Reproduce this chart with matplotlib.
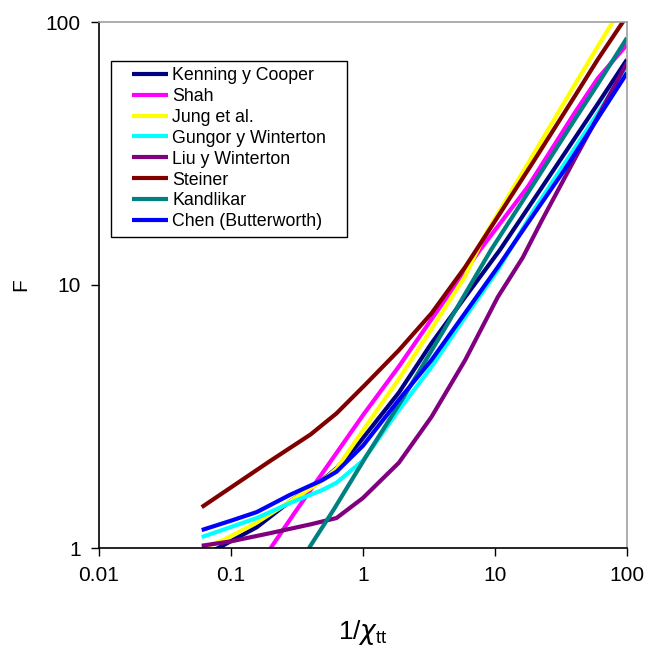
import matplotlib
matplotlib.use("Agg")
import matplotlib.pyplot as plt
from matplotlib.patches import Rectangle

plt.rcParams['font.family'] = ['Liberation Sans', 'DejaVu Sans']

# series (x = 1/Xtt, y = F)
kenning_x = [0.06, 0.08, 0.157, 0.278, 0.49, 0.63, 0.93, 1.87, 3.3, 5.94, 10.9, 20, 40, 60, 100]
kenning_f = [0.93, 1.0, 1.2, 1.5, 1.81, 2.01, 2.5, 3.9, 6.0, 9.0, 13.6, 21.4, 36, 48.8, 72]

shah_x = [0.2, 0.3, 0.49, 0.83, 1.0, 1.87, 3.93, 7.7, 17.7, 40, 60, 100]
shah_f = [1.0, 1.35, 1.92, 2.8, 3.2, 4.9, 8.4, 13.6, 23.6, 45, 61, 82]

jung_x = [0.06, 0.087, 0.157, 0.278, 0.49, 0.63, 1.0, 1.87, 3.3, 5.94, 8.1, 20, 40, 60, 78, 100]
jung_f = [1.0, 1.07, 1.25, 1.5, 1.8, 2.0, 2.8, 4.4, 6.8, 10.8, 15.0, 32, 57.5, 80.7, 100, 122]

gungor_x = [0.06, 0.157, 0.278, 0.49, 0.63, 1.0, 1.87, 3.3, 5.94, 10.5, 20, 40, 60, 100]
gungor_f = [1.10, 1.30, 1.48, 1.66, 1.77, 2.15, 3.35, 4.88, 7.55, 11.4, 19.5, 33, 45, 67]

liu_x = [0.06, 0.1, 0.2, 0.4, 0.63, 1.0, 1.87, 3.3, 5.94, 10.5, 16.2, 22.5, 40, 60, 100]
liu_f = [1.02, 1.06, 1.14, 1.23, 1.30, 1.55, 2.11, 3.15, 5.18, 9.0, 12.7, 17.5, 30, 43.6, 70]

steiner_x = [0.06, 0.1, 0.2, 0.4, 0.63, 1.05, 1.87, 3.3, 5.94, 10, 20, 40, 60, 93, 100]
steiner_f = [1.43, 1.7, 2.15, 2.7, 3.25, 4.2, 5.65, 7.8, 11.7, 17.5, 30, 52, 72, 100, 106]

kandlikar_x = [0.39, 0.6, 1.05, 2, 4, 9.33, 20, 40, 60, 100]
kandlikar_f = [1.0, 1.4, 2.22, 3.7, 6.6, 13.6, 24.6, 42.4, 58, 87]

chen_x = [0.06, 0.1, 0.157, 0.278, 0.49, 0.63, 1.0, 1.87, 3.3, 5.94, 10.5, 20, 33.6, 60, 100]
chen_f = [1.17, 1.27, 1.37, 1.59, 1.81, 1.95, 2.45, 3.66, 5.18, 7.83, 11.7, 18.8, 27.4, 43, 64]

labels = ['Kenning y Cooper', 'Shah', 'Jung et al.', 'Gungor y Winterton',
          'Liu y Winterton', 'Steiner', 'Kandlikar', 'Chen (Butterworth)']
colors = ['#000080', '#FF00FF', '#FFFF00', '#00FFFF',
          '#800080', '#800000', '#008080', '#0000FF']
series = [(kenning_x, kenning_f), (shah_x, shah_f), (jung_x, jung_f),
          (gungor_x, gungor_f), (liu_x, liu_f), (steiner_x, steiner_f),
          (kandlikar_x, kandlikar_f), (chen_x, chen_f)]

fig = plt.figure(figsize=(6.47, 6.46), dpi=100)
ax = fig.add_axes([99 / 647, 98 / 646, 528 / 647, 526 / 646])

for (xs, fs), lab, col in zip(series, labels, colors):
    ax.plot(xs, fs, color=col, lw=3, label=lab, solid_capstyle='butt')

ax.set_xscale('log')
ax.set_yscale('log')
ax.set_xlim(0.01, 100)
ax.set_ylim(1, 100)
ax.set_xticks([0.01, 0.1, 1, 10, 100])
ax.set_xticklabels(['0.01', '0.1', '1', '10', '100'])
ax.set_yticks([1, 10, 100])
ax.set_yticklabels(['1', '10', '100'])
ax.minorticks_off()
ax.tick_params(direction='out', length=6, width=1, labelsize=15, pad=7)

# Excel-like frame: black axes, grey plot-area border
for side in ['top', 'right']:
    ax.spines[side].set_color('#a0a0a0')
    ax.spines[side].set_linewidth(1.2)
for side in ['left', 'bottom']:
    ax.spines[side].set_color('black')
    ax.spines[side].set_linewidth(1.2)

ax.set_ylabel('F', fontsize=15, labelpad=11)
ax.set_xlabel(r'$\mathregular{1/}\chi_{\mathregular{tt}}$', fontsize=19, labelpad=24)

# legend box
ax.add_patch(Rectangle((0.0228, 0.591), 0.446, 0.3346, transform=ax.transAxes,
                       facecolor='white', edgecolor='black', lw=1, zorder=4))
leg = ax.legend(loc='upper left', bbox_to_anchor=(0.0626, 0.9145), frameon=False,
                fontsize=12.8, handlelength=2.05, handletextpad=0.2,
                labelspacing=0.22, borderpad=0, borderaxespad=0)
leg.set_zorder(5)

plt.savefig('out.png', dpi=100)
